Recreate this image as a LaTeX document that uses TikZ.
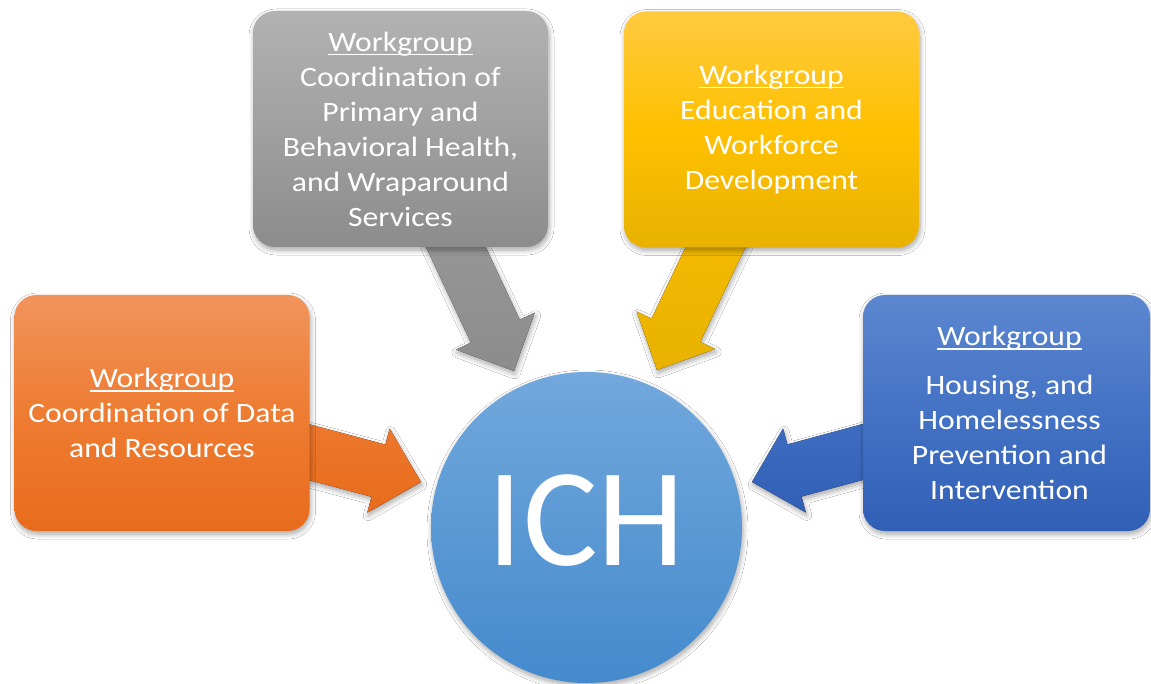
\documentclass[tikz,border=0pt]{standalone}
\usepackage{fontspec}
\setmainfont{Carlito}
\newfontfamily\wgfamily{Carlito}[FakeStretch=1.13]
\usetikzlibrary{calc,backgrounds,shadows.blur}

% fills, light at the top and darker at the bottom
\definecolor{orangetop}{RGB}{241,148,92}
\definecolor{orangemid}{RGB}{238,124,50}
\definecolor{orangebot}{RGB}{232,108,28}
\definecolor{graytop}{RGB}{178,178,178}
\definecolor{graymid}{RGB}{160,160,160}
\definecolor{graybot}{RGB}{140,140,140}
\definecolor{goldtop}{RGB}{255,202,64}
\definecolor{goldmid}{RGB}{255,192,0}
\definecolor{goldbot}{RGB}{232,178,0}
\definecolor{bluetop}{RGB}{92,135,208}
\definecolor{bluemid}{RGB}{68,114,196}
\definecolor{bluebot}{RGB}{48,95,182}
\definecolor{hubtop}{RGB}{114,168,220}
\definecolor{hubbot}{RGB}{68,138,205}

% underline that runs through the descenders
\newcommand\ulwg[1]{\setbox0=\hbox{#1}\rlap{\rule[-4pt]{\wd0}{1.6pt}}\box0}

% block arrow from #1 to the tip #2, filled with #3
\newcommand\fatarrow[3]{%
  \path ($(#2)!44pt!(#1)$) coordinate (#2-base);
  \fill[#3,softshadow]
    ($(#1)!27pt!90:(#2)$) -- ($(#2-base)!27pt!90:(#2)$)
    -- ($(#2-base)!43.5pt!90:(#2)$) -- (#2)
    -- ($(#2-base)!43.5pt!-90:(#2)$) -- ($(#2-base)!27pt!-90:(#2)$)
    -- ($(#1)!27pt!-90:(#2)$) -- cycle;
}

\tikzset{
  softshadow/.style={blur shadow={shadow xshift=1pt, shadow yshift=-3pt,
      shadow blur radius=5pt, shadow blur steps=8, shadow opacity=35}},
  wgtext/.style={align=center, text=white, font=\wgfamily\fontsize{28}{35}\selectfont},
  wgbox/.style={rounded corners=22pt, minimum width=295pt, minimum height=236pt,
    inner sep=0pt, wgtext, softshadow},
}

\begin{document}
\begin{tikzpicture}[x=1pt,y=-1pt]
  \useasboundingbox (0,0) rectangle (1151,684);

  % the four workgroups
  \node[wgbox, top color=orangetop, bottom color=orangebot, middle color=orangemid]
    (wgdata) at (162,413) {\ulwg{Workgroup}\\Coordination of Data\\and Resources};
  \node[wgbox, top color=graytop, bottom color=graybot, middle color=graymid]
    (wghealth) at (400.5,129) {\ulwg{Workgroup}\\Coordination of\\Primary and\\Behavioral Health,\\and Wraparound\\Services};
  \node[wgbox, top color=goldtop, bottom color=goldbot, middle color=goldmid]
    (wgedu) at (771.5,129.5) {\ulwg{Workgroup}\\Education and\\Workforce\\Development};
  \node[wgbox, minimum width=287pt, top color=bluetop, bottom color=bluebot, middle color=bluemid]
    (wghousing) at (1006.5,413) {};
  \node[wgtext] (wghousingtext) at (1009.5,413) {\ulwg{Workgroup}\\[14pt]Housing, and\\Homelessness\\Prevention and\\Intervention};

  % the council in the middle
  \node[circle, minimum size=311pt, inner sep=0pt, top color=hubtop, bottom color=hubbot, softshadow]
    (hub) at (586.5,527.5) {};
  \node[text=white, inner sep=0pt, font=\fontsize{140}{140}\selectfont]
    (hublabel) at (586.5,521) {ICH};

  \coordinate (tipdata) at (421,482);
  \coordinate (tiphealth) at (514,371);
  \coordinate (tipedu) at (657,370);
  \coordinate (tiphousing) at (752,482);

  % arrows run under the boxes
  \begin{scope}[on background layer]
    \fill[white] (0,0) rectangle (1151,684);
    \fatarrow{wgdata}{tipdata}{top color=orangemid, bottom color=orangebot}
    \fatarrow{wghealth}{tiphealth}{top color=graymid, bottom color=graybot}
    \fatarrow{wgedu}{tipedu}{top color=goldmid, bottom color=goldbot}
    \fatarrow{wghousing}{tiphousing}{top color=bluemid, bottom color=bluebot}
  \end{scope}
\end{tikzpicture}
\end{document}
